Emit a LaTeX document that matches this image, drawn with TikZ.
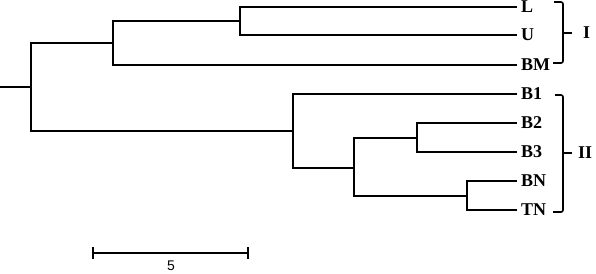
\documentclass[tikz,border=0pt]{standalone}
\usepackage{fontspec}
\setmainfont{Liberation Serif}
\setsansfont{Liberation Sans}
\usetikzlibrary{calc}

\tikzset{
	leaf/.style={anchor=west, inner sep=0pt, outer sep=0pt, inner xsep=5pt, font=\fontsize{18}{20}\selectfont\bfseries},
	group/.style={anchor=west, inner sep=0pt, font=\fontsize{18}{20}\selectfont\bfseries},
	branch/.style={line width=1.6pt, line cap=rect},
}

\begin{document}
\begin{tikzpicture}[x=1pt, y=-1pt]
	\useasboundingbox (0,0) rectangle (596,273);
	% leaves
	\node[leaf] (L) at (516,7) {L};
	\node[leaf] (U) at (516,35) {U};
	\node[leaf] (BM) at (516,65) {BM};
	\node[leaf] (B1) at (516,94) {B1};
	\node[leaf] (B2) at (516,123) {B2};
	\node[leaf] (B3) at (516,152) {B3};
	\node[leaf] (BN) at (516,181) {BN};
	\node[leaf] (TN) at (516,210) {TN};
	% internal nodes
	\coordinate (stem) at (0,87);
	\coordinate (root) at (31,87);
	\coordinate (cI) at (113,43);
	\coordinate (cLU) at (240,21);
	\coordinate (cII) at (293,131);
	\coordinate (cB) at (354,168);
	\coordinate (cB23) at (417,138);
	\coordinate (cBN) at (467,196);
	\draw[branch] (stem) -- (root);
	\draw[branch] (root) |- (cI);
	\draw[branch] (root) |- (cII);
	\draw[branch] (cI) |- (cLU);
	\draw[branch] (cI) |- (BM.west);
	\draw[branch] (cLU) |- (L.west);
	\draw[branch] (cLU) |- (U.west);
	\draw[branch] (cII) |- (B1.west);
	\draw[branch] (cII) |- (cB);
	\draw[branch] (cB) |- (cB23);
	\draw[branch] (cB) |- (cBN);
	\draw[branch] (cB23) |- (B2.west);
	\draw[branch] (cB23) |- (B3.west);
	\draw[branch] (cBN) |- (BN.west);
	\draw[branch] (cBN) |- (TN.west);
	% groups
	\node[group] (gI) at (583,33) {I};
	\node[group] (gII) at (578,153) {II};
	\draw[line width=1.6pt, rounded corners=2pt] (554,2) -- (563,2) -- (563,63) -- (553,63);
	\draw[line width=1.6pt] (563,33) -- (572,33);
	\draw[line width=1.6pt, rounded corners=2pt] (555,95) -- (563,95) -- (563,212) -- (553,212);
	\draw[line width=1.6pt] (563,153) -- (572,153);
	% scale bar
	\coordinate (sa) at (93,253);
	\coordinate (sb) at (248,253);
	\draw[line width=1.6pt] (sa) -- (sb);
	\draw[line width=1.6pt] ($(sa)+(0,-6)$) -- ($(sa)+(0,6)$);
	\draw[line width=1.6pt] ($(sb)+(0,-6)$) -- ($(sb)+(0,6)$);
	\node[font=\sffamily\fontsize{14}{16}\selectfont, inner sep=0pt] (five) at (171,266) {5};
\end{tikzpicture}
\end{document}
